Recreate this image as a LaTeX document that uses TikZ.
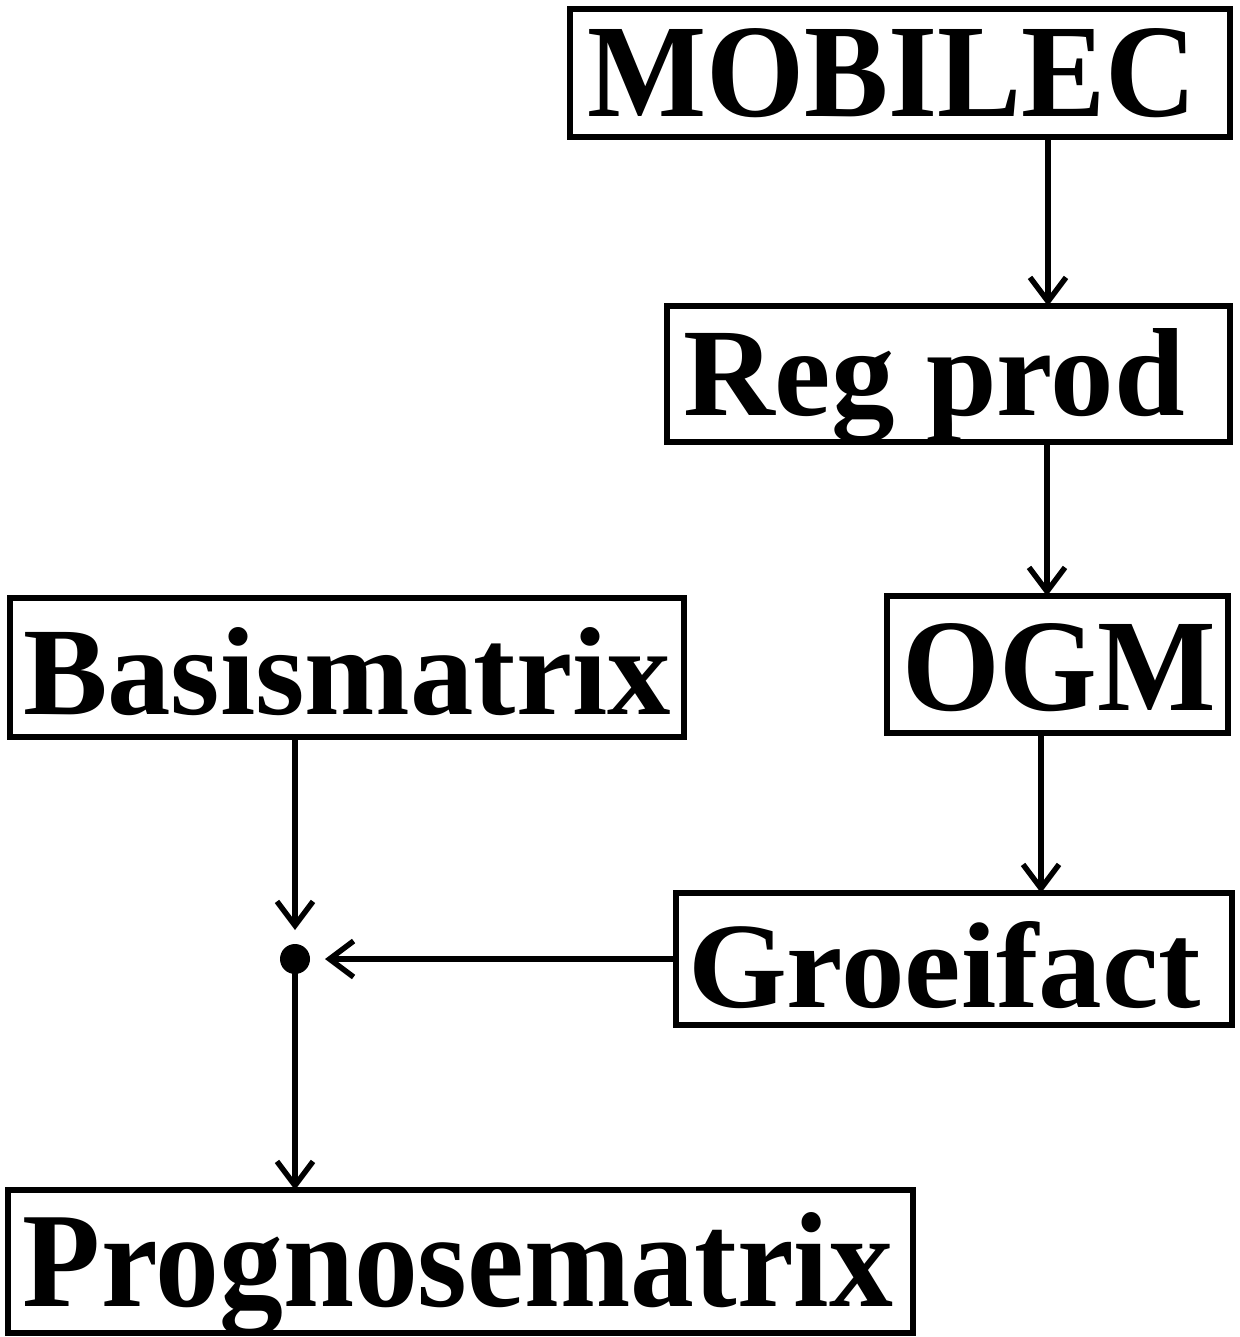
\documentclass[tikz,border=0pt]{standalone}
\usepackage{fontspec}
\setmainfont{Liberation Serif}
\usetikzlibrary{arrows.meta}
\newcommand{\boxtext}[3]{\resizebox{#1pt}{#2pt}{\fontsize{100}{100}\selectfont\bfseries #3}}
\begin{document}
\begin{tikzpicture}[x=1pt,y=-1pt,
  boxnode/.style={draw, line width=6pt, rectangle, inner sep=0pt, outer sep=0pt},
  lbl/.style={anchor=base west, inner sep=0pt, outer sep=0pt},
  conn/.style={line width=5.5pt, -{Straight Barb[length=24pt,width=36pt]}},
  junction/.style={circle, fill=black, inner sep=0pt, minimum size=30pt}]
\useasboundingbox[fill=white] (0,0) rectangle (1239,1337);

% boxes
\node[boxnode, minimum width=660pt, minimum height=128pt] (mob) at (900,73) {};
\node[boxnode, minimum width=563pt, minimum height=136pt] (reg) at (948.5,374) {};
\node[boxnode, minimum width=341pt, minimum height=137pt] (ogm) at (1057.5,664.5) {};
\node[boxnode, minimum width=556pt, minimum height=132pt] (gro) at (954,959) {};
\node[boxnode, minimum width=674pt, minimum height=139pt] (bas) at (347,667.5) {};
\node[boxnode, minimum width=905pt, minimum height=143pt] (prog) at (460.5,1261.5) {};

% texts
\node[lbl] (tmob) at (587,117) {\boxtext{610}{88}{MOBILEC}};
\node[lbl] (treg) at (683,415) {\boxtext{502}{87}{Reg prod}};
\node[lbl] (togm) at (902,710) {\boxtext{314}{87}{OGM}};
\node[lbl] (tgro) at (688,1007) {\boxtext{513}{86}{Groeifact}};
\node[lbl] (tbas) at (23,714) {\boxtext{648}{87}{Basismatrix}};
\node[lbl] (tprog) at (23,1306) {\boxtext{870}{94}{Prognosematrix}};

% junction
\node[junction] (dot) at (295,959) {};

% helper x positions
\coordinate (x1) at (1048,0);
\coordinate (x2) at (1047,0);
\coordinate (x3) at (1041,0);

% connectors
\draw[conn] (mob.south -| x1) -- (reg.north -| x1);
\draw[conn] (reg.south -| x2) -- (ogm.north -| x2);
\draw[conn] (ogm.south -| x3) -- (gro.north -| x3);
\draw[conn, shorten >=29pt] (bas.south -| dot) -- (dot.center);
\draw[conn, shorten >=30pt] (gro.west) -- (dot.center);
\draw[conn] (dot.center) -- (prog.north -| dot);
\end{tikzpicture}
\end{document}
